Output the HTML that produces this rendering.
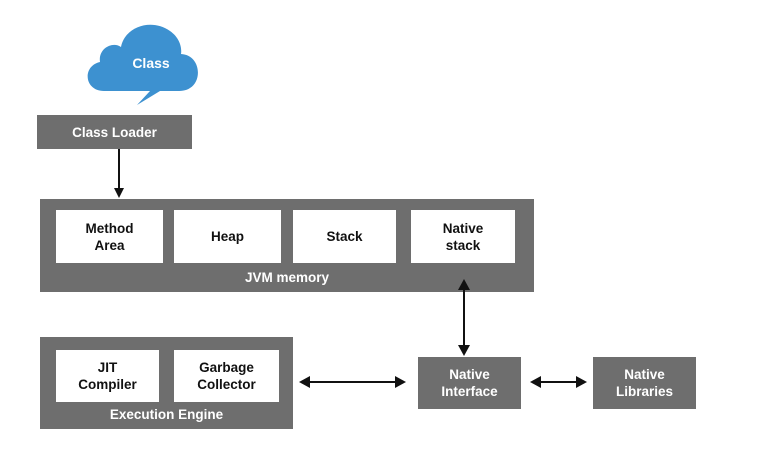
<!DOCTYPE html>
<html><head><style>
body{margin:0;width:759px;height:463px;background:#fff;position:relative;overflow:hidden;font-family:"Liberation Sans",Arial,sans-serif;font-weight:bold;font-size:13.5px}
.b{position:absolute;background:#6e6e6e;color:#fff;display:flex;align-items:center;justify-content:center;text-align:center;line-height:17px}
.w{position:absolute;background:#fff;color:#111;display:flex;align-items:center;justify-content:center;text-align:center;line-height:17px}
.t{position:absolute;color:#fff;text-align:center}
svg{position:absolute;left:0;top:0;z-index:5}
</style></head><body>
<div class="b" style="left:37px;top:115px;width:155px;height:34px">Class Loader</div>
<div class="b" style="left:40px;top:199px;width:494px;height:93px"></div>
<div class="w" style="left:56px;top:210px;width:107px;height:53px">Method<br>Area</div>
<div class="w" style="left:174px;top:210px;width:107px;height:53px">Heap</div>
<div class="w" style="left:293px;top:210px;width:103px;height:53px">Stack</div>
<div class="w" style="left:411px;top:210px;width:104px;height:53px">Native<br>stack</div>
<div class="t" style="left:40px;top:270px;width:494px">JVM memory</div>
<div class="b" style="left:40px;top:337px;width:253px;height:92px"></div>
<div class="w" style="left:56px;top:350px;width:103px;height:52px">JIT<br>Compiler</div>
<div class="w" style="left:174px;top:350px;width:105px;height:52px">Garbage<br>Collector</div>
<div class="t" style="left:40px;top:407px;width:253px">Execution Engine</div>
<div class="b" style="left:418px;top:357px;width:103px;height:52px">Native<br>Interface</div>
<div class="b" style="left:593px;top:357px;width:103px;height:52px">Native<br>Libraries</div>
<svg width="759" height="463">
<path d="M104 91 C84 91 82 66 100 62 C98 48 113 41 121 47 C125 26 152 18 170 31 C180 38 182 48 181 54 C200 55 203 80 190 88 C186 91 180 91 176 91 L160 91 L137 105 L150 91 Z" fill="#3d91d0"/>
<text x="151" y="68" fill="#fff" font-size="14" font-weight="bold" text-anchor="middle" font-family="Liberation Sans,Arial,sans-serif">Class</text>
<g stroke="#111" stroke-width="2" fill="none">
<line x1="119" y1="149" x2="119" y2="190"/>
<line x1="464" y1="288" x2="464" y2="348"/>
<line x1="308" y1="382" x2="397" y2="382"/>
<line x1="540" y1="382" x2="578" y2="382"/>
</g>
<g fill="#111">
<path d="M114 188 L124 188 L119 198 Z"/>
<path d="M458 290 L464 279 L470 290 Z"/>
<path d="M458 345 L464 356 L470 345 Z"/>
<path d="M310 376 L299 382 L310 388 Z"/>
<path d="M395 376 L406 382 L395 388 Z"/>
<path d="M541 376 L530 382 L541 388 Z"/>
<path d="M576 376 L587 382 L576 388 Z"/>
</g>
</svg>
</body></html>
